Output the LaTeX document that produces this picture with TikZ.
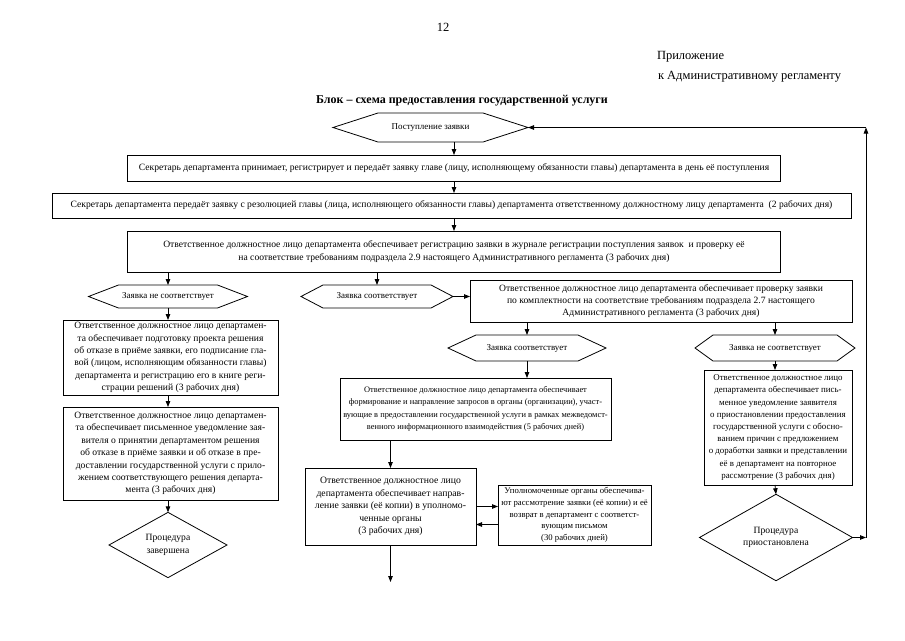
\documentclass[tikz,border=0pt]{standalone}
\usepackage{fontspec}
\setmainfont{Liberation Serif}
\usetikzlibrary{shapes.geometric,arrows.meta,calc}
\newcommand{\hexbox}[7]{%
  \node[hexlabel, minimum width=#4pt, minimum height=#5pt] (#1) at (#2,#3) {#7};
  \draw[ln] (#1.west) -- ([xshift=#6pt]#1.north west) -- ([xshift=-#6pt]#1.north east) -- (#1.east)
    -- ([xshift=-#6pt]#1.south east) -- ([xshift=#6pt]#1.south west) -- cycle;}
\begin{document}
\begin{tikzpicture}[x=1pt,y=-1pt,
  every node/.style={inner sep=0pt, outer sep=0pt},
  ln/.style={line width=0.8pt},
  box/.style={draw, line width=0.8pt, align=center, font=\fontsize{9.6}{12.2}\selectfont},
  sbox/.style={box, font=\fontsize{9.6}{12.4}\selectfont},
  hexlabel/.style={align=center, font=\fontsize{9}{11}\selectfont},
  dia/.style={draw, diamond, line width=0.8pt, align=center, font=\fontsize{9.6}{12.4}\selectfont},
  arr/.style={line width=0.8pt, -{Triangle[length=6pt,width=4.5pt]}},
  hdr/.style={font=\fontsize{12.5}{15}\selectfont}
]
\useasboundingbox (0,0) rectangle (905,640);

% header
\node[hdr] (pg) at (443,27) {12};
\node[hdr, anchor=west] (app1) at (657,57) {Приложение};
\node[hdr, anchor=west] (app2) at (658,77) {к Административному регламенту};
\node[font=\bfseries\fontsize{12}{14}\selectfont] (title) at (462,101) {Блок – схема предоставления государственной услуги};

% top hexagon
\hexbox{h0}{430.5}{127.5}{195}{29}{45}{Поступление заявки}

% main boxes
\node[box, minimum width=653pt, minimum height=26pt] (b1) at (454,168)
  {Секретарь департамента принимает, регистрирует и передаёт заявку главе (лицу, исполняющему обязанности главы) департамента в день её поступления};
\node[box, minimum width=799pt, minimum height=25pt] (b2) at (451.5,205.5)
  {Секретарь департамента передаёт заявку с резолюцией главы (лица, исполняющего обязанности главы) департамента ответственному должностному лицу департамента\ \ (2 рабочих дня)};
\node[box, minimum width=653pt, minimum height=41pt] (b3) at (454,251.5)
  {Ответственное должностное лицо департамента обеспечивает регистрацию заявки в журнале регистрации поступления заявок\ \ и проверку её\\
   на соответствие требованиям подраздела 2.9 настоящего Административного регламента (3 рабочих дня)};

% second level
\hexbox{hl}{168}{296.5}{159}{23}{30}{Заявка не соответствует}
\hexbox{hm}{377}{296.5}{152}{23}{22}{Заявка соответствует}
\node[box, minimum width=382pt, minimum height=42pt] (b4) at (661,301)
  {Ответственное должностное лицо департамента обеспечивает проверку заявки\\
   по комплектности на соответствие требованиям подраздела 2.7 настоящего\\
   Административного регламента (3 рабочих дня)};
\hexbox{hm2}{527}{348}{158}{26}{28}{Заявка соответствует}
\hexbox{hr}{775}{348}{160}{26}{18}{Заявка не соответствует}

% left column
\node[sbox, minimum width=215pt, minimum height=75pt] (l1) at (170.5,357.5)
  {Ответственное должностное лицо департамен-\\
   та обеспечивает подготовку проекта решения\\
   об отказе в приёме заявки, его подписание гла-\\
   вой (лицом, исполняющим обязанности главы)\\
   департамента и регистрацию его в книге реги-\\
   страции решений (3 рабочих дня)};
\node[sbox, minimum width=215pt, minimum height=93pt] (l2) at (170.5,453.5)
  {Ответственное должностное лицо департамен-\\
   та обеспечивает письменное уведомление зая-\\
   вителя о принятии департаментом решения\\
   об отказе в приёме заявки и об отказе в пре-\\
   доставлении государственной услуги с прило-\\
   жением соответствующего решения департа-\\
   мента (3 рабочих дня)};
\node[dia, minimum width=118pt, minimum height=60pt] (dl) at (168,545) {Процедура\\завершена};

% middle column
\node[sbox, font=\fontsize{8.4}{12.4}\selectfont, minimum width=271pt, minimum height=62pt] (m1) at (475.5,409)
  {Ответственное должностное лицо департамента обеспечивает\\
   формирование и направление запросов в органы (организации), участ-\\
   вующие в предоставлении государственной услуги в рамках межведомст-\\
   венного информационного взаимодействия (5 рабочих дней)};
\node[sbox, font=\fontsize{9.7}{12.4}\selectfont, minimum width=171pt, minimum height=77pt] (m2) at (390.5,506.5)
  {Ответственное должностное лицо\\
   департамента обеспечивает направ-\\
   ление заявки (её копии) в уполномо-\\
   ченные органы\\
   (3 рабочих дня)};
\node[sbox, font=\fontsize{8.7}{11.6}\selectfont, minimum width=153pt, minimum height=60pt] (m3) at (574.5,515)
  {Уполномоченные органы обеспечива-\\
   ют рассмотрение заявки (её копии) и её\\
   возврат в департамент с соответст-\\
   вующим письмом\\
   (30 рабочих дней)};

% right column
\node[sbox, font=\fontsize{8.9}{12.2}\selectfont, minimum width=148pt, minimum height=115pt] (r1) at (778,427.5)
  {Ответственное должностное лицо\\
   департамента обеспечивает пись-\\
   менное уведомление заявителя\\
   о приостановлении предоставления\\
   государственной услуги с обосно-\\
   ванием причин с предложением\\
   о доработки заявки и представлении\\
   её в департамент на повторное\\
   рассмотрение (3 рабочих дня)};
\node[dia, minimum width=153pt, minimum height=62pt] (dr) at (776,537.5) {Процедура\\приостановлена};

% connectors
\draw[arr] (h0.south -| b1.north) -- (b1.north);
\draw[arr] (b1.south) -- (b1.south |- b2.north);
\draw[arr] (b3.north |- b2.south) -- (b3.north);
\draw[arr] (hl.north |- b3.south) -- (hl.north);
\draw[arr] (hm.north |- b3.south) -- (hm.north);
\draw[arr] (hm.east) -- (hm.east -| b4.west);
\draw[arr] (hm2.north |- b4.south) -- (hm2.north);
\draw[arr] (hr.north |- b4.south) -- (hr.north);
\draw[arr] (hl.south) -- (hl.south |- l1.north);
\draw[arr] (hl.south |- l1.south) -- (hl.south |- l2.north);
\draw[arr] (hl.south |- l2.south) -- (dl.north);
\draw[arr] (hm2.south) -- (hm2.south |- m1.north);
\draw[arr] (m2.north |- m1.south) -- (m2.north);
\draw[arr] (m2.east) -- (m2.east -| m3.west);
\draw[arr] ([yshift=-18pt]m2.east -| m3.west) -- ([yshift=-18pt]m2.east);
\coordinate (mend) at (390.5,582);
\draw[arr] (m2.south) -- (mend);
\draw[arr] (hr.south) -- (hr.south |- r1.north);
\draw[arr] (hr.south |- r1.south) -- (dr.north);
\coordinate (cb) at (866,537.5);
\coordinate (ct) at (866,127.5);
\draw[arr] (dr.east) -- (cb);
\draw[arr] (cb) -- (ct);
\draw[arr] (ct) -- (h0.east);
\end{tikzpicture}
\end{document}
